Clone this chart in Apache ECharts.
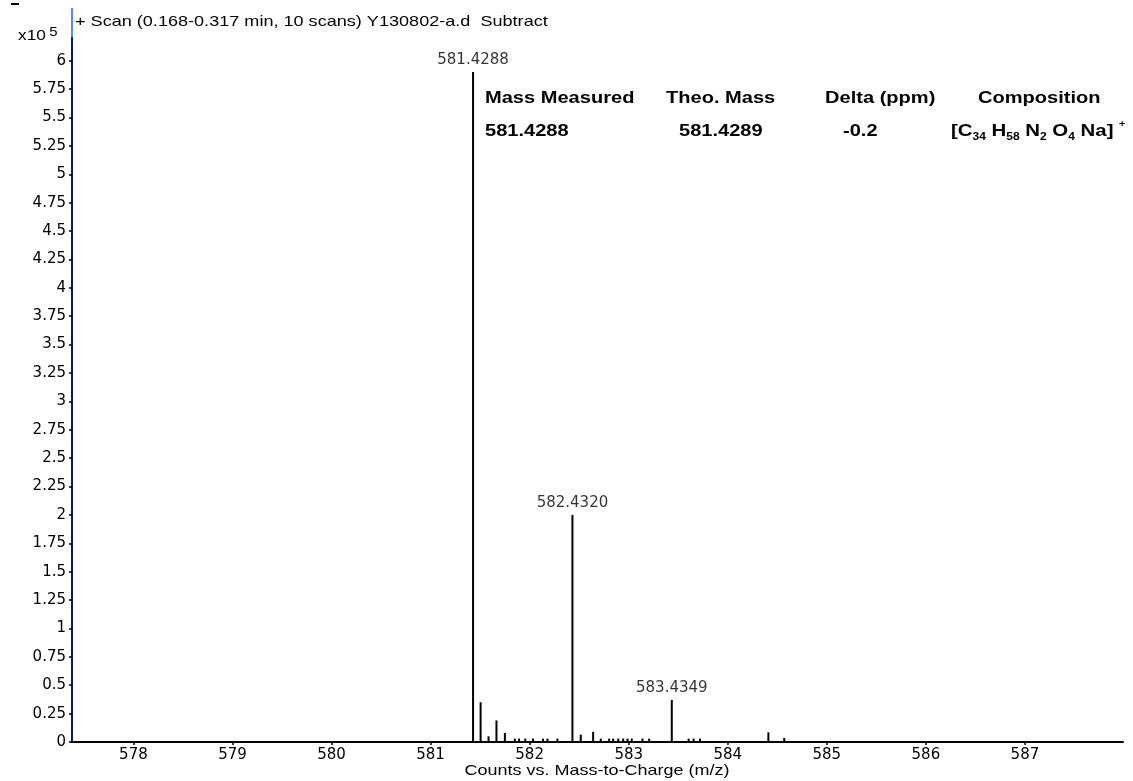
<!DOCTYPE html>
<html>
<head>
<meta charset="utf-8">
<script src="https://cdn.jsdelivr.net/npm/echarts@6/dist/echarts.min.js"></script>
<style>html,body{margin:0;padding:0;background:#fff}#c{width:1133px;height:781px}</style>
</head>
<body>
<div id="c"></div>
<script>
// m/z of each centroid stick and its height (x10^5 counts)
const peakMz = [581.4288, 581.505, 581.585, 581.665, 581.75, 581.85, 581.893, 581.956, 582.034, 582.135, 582.18, 582.28,
  582.4320, 582.516, 582.641, 582.718, 582.803, 582.843, 582.894, 582.944, 582.988, 583.031, 583.139, 583.207,
  583.4349, 583.605, 583.655, 583.72, 584.41, 584.57];
const peakHeight = [5.90, 0.35, 0.05, 0.19, 0.08, 0.03, 0.03, 0.03, 0.03, 0.03, 0.03, 0.03,
  2.00, 0.065, 0.09, 0.03, 0.03, 0.03, 0.03, 0.03, 0.03, 0.03, 0.03, 0.03,
  0.37, 0.03, 0.03, 0.03, 0.085, 0.035];
// labelled peaks
const labelMz = [581.4288, 582.4320, 583.4349];
const labelHeight = [5.90, 2.00, 0.37];
const labelText = ['581.4288', '582.4320', '583.4349'];
// table
const tableHeaders = ['Mass Measured', 'Theo. Mass', 'Delta (ppm)', 'Composition'];
const tableValues = ['581.4288', '581.4289', '-0.2'];
const compositionRich = '[C{sub|34} H{sub|58} N{sub|2} O{sub|4} Na] {sup|+}';
const headerText = '+ Scan (0.168-0.317 min, 10 scans) Y130802-a.d  Subtract';
const xAxisTitle = 'Counts vs. Mass-to-Charge (m/z)';

const chart = echarts.init(document.getElementById('c'));
const F = '"Liberation Sans", Arial, sans-serif';
const LF = '"DejaVu Sans", sans-serif';

const stickData = peakMz.map((m, i) => [m, peakHeight[i]]);
const labelData = labelMz.map((m, i) => ({ value: [m, labelHeight[i]], name: labelText[i] }));

function txt(x, y, text, opts, sx) {
  return {
    type: 'text', x: x, y: y, scaleX: sx || 1.18, silent: true,
    style: Object.assign({ text: text, fill: '#000', font: '15px ' + F, textAlign: 'left', textVerticalAlign: 'middle' }, opts || {})
  };
}

const tblX = [485, 666, 825, 978];
const valX = [485, 679, 843];
const graphics = [
  txt(75, 22, headerText, { font: '15px ' + F }, 1.205),
  { type: 'text', x: 18, y: 36, scaleX: 1.15, silent: true,
    style: { text: 'x10{sup|5}', font: '15px ' + F, fill: '#000', textVerticalAlign: 'middle',
      rich: { sup: { font: '13px ' + F, verticalAlign: 'top', padding: [0, 0, 8, 3] } } } },
  { type: 'line', silent: true, shape: { x1: 72, y1: 8, x2: 72, y2: 39 }, style: { stroke: '#2a62e0', lineWidth: 1.5 } },
  { type: 'line', silent: true, shape: { x1: 11, y1: 4, x2: 19, y2: 4 }, style: { stroke: '#000', lineWidth: 2 } },
  { type: 'text', x: 597, y: 771, scaleX: 1.2, silent: true,
    style: { text: xAxisTitle, font: '15px ' + F, fill: '#000', textAlign: 'center', textVerticalAlign: 'middle' } }
];
tableHeaders.forEach((h, i) => graphics.push(txt(tblX[i], 98, h, { font: 'bold 17px ' + F })));
tableValues.forEach((v, i) => graphics.push(txt(valX[i], 131, v, { font: 'bold 17px ' + F })));
graphics.push({
  type: 'text', x: 951, y: 131, scaleX: 1.2, silent: true,
  style: {
    text: compositionRich, font: 'bold 17px ' + F, fill: '#000', textVerticalAlign: 'middle', lineHeight: 22,
    rich: {
      sub: { font: 'bold 10px ' + F, verticalAlign: 'bottom', lineHeight: 10 },
      sup: { font: 'bold 9px ' + F, verticalAlign: 'top', lineHeight: 10 }
    }
  }
});

chart.setOption({
  animation: false,
  backgroundColor: '#fff',
  grid: { left: 72, right: 10, top: 38, bottom: 39, containLabel: false },
  xAxis: {
    type: 'value', min: 577.38, max: 587.99, minInterval: 1, maxInterval: 1,
    axisLine: { show: true, onZero: false, lineStyle: { color: '#000', width: 2 } },
    axisTick: { show: true, length: 3, lineStyle: { color: '#000', width: 1.5 } },
    axisLabel: { showMinLabel: false, showMaxLabel: false, color: '#000', fontFamily: LF, fontSize: 15, margin: 6 },
    splitLine: { show: false }
  },
  yAxis: {
    type: 'value', min: 0, max: 6.2, interval: 0.25,
    axisLine: { show: true, lineStyle: { color: '#0a1a5a', width: 2 } },
    axisTick: { show: true, length: 3, lineStyle: { color: '#000', width: 1.5 } },
    axisLabel: { showMaxLabel: false, color: '#000', fontFamily: LF, fontSize: 15, margin: 6 },
    splitLine: { show: false }
  },
  graphic: graphics,
  series: [
    {
      type: 'custom', data: stickData, clip: true,
      renderItem: function (params, api) {
        const m = api.value(0), h = api.value(1);
        const p0 = api.coord([m, 0]);
        const p1 = api.coord([m, h]);
        return { type: 'line', shape: { x1: p0[0], y1: p0[1], x2: p1[0], y2: p1[1] },
          style: { stroke: '#000', lineWidth: 2 } };
      }
    },
    {
      type: 'scatter', data: labelData, symbolSize: 0, silent: true,
      label: { show: true, position: 'top', distance: 4, formatter: '{b}', color: '#000', fontFamily: LF, fontSize: 15 }
    }
  ]
});
</script>
</body>
</html>
